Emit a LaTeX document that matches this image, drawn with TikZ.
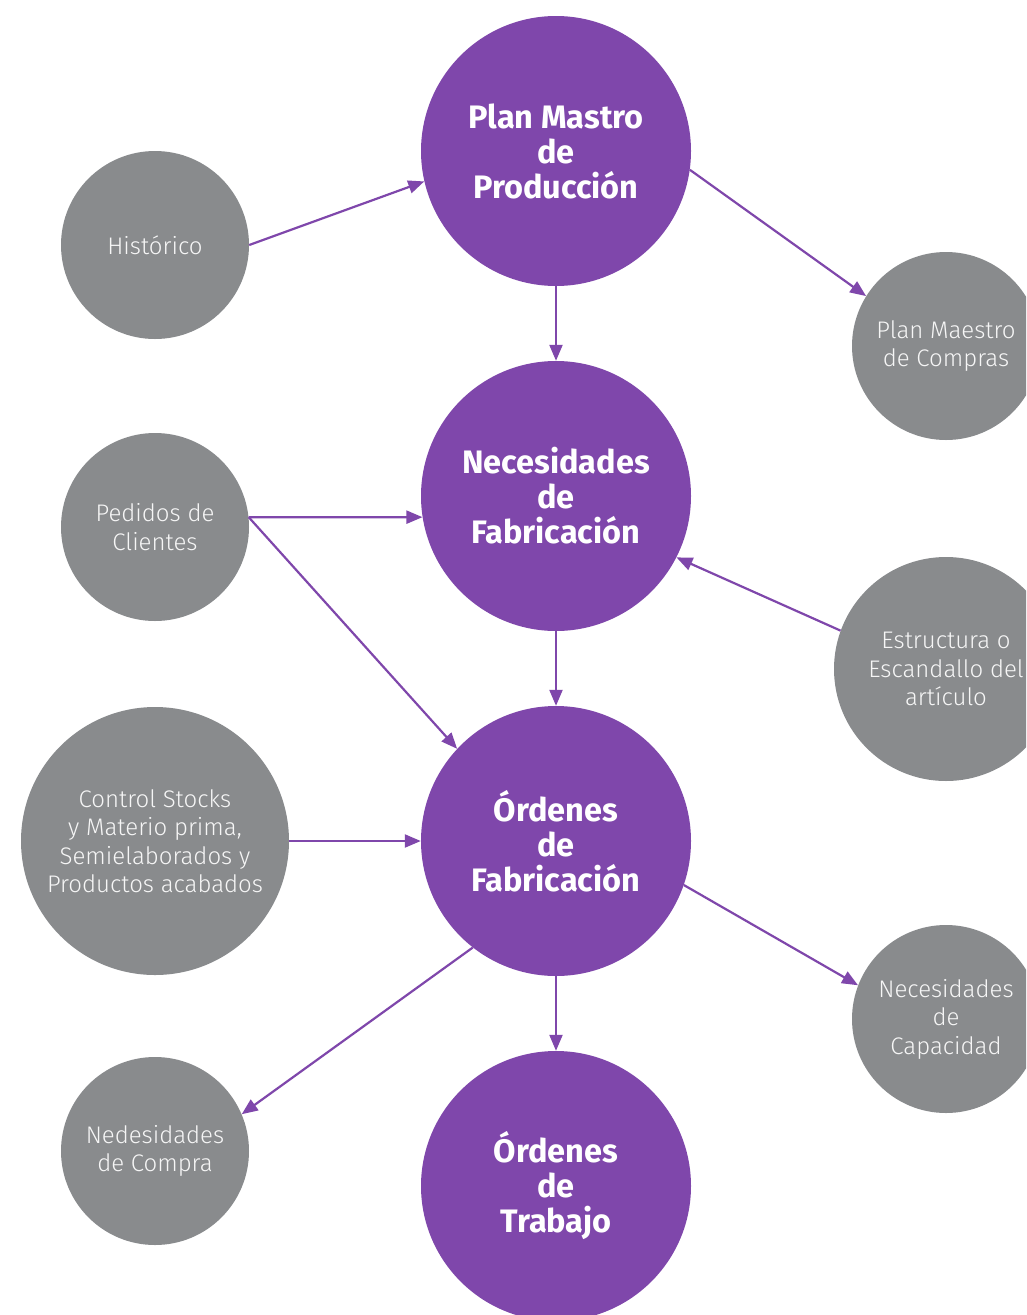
\documentclass[tikz,border=0pt]{standalone}
\usepackage{fontspec}
\setmainfont{Fira Sans}
\IfFontExistsTF{Fira Sans Light}{\newfontfamily\lightf{Fira Sans Light}}{\newfontfamily\lightf{Fira Sans}}
\usetikzlibrary{arrows.meta}
\definecolor{vio}{HTML}{7F47AB}
\definecolor{gris}{HTML}{898B8D}
\begin{document}
\begin{tikzpicture}[x=1pt,y=-1pt,
 big/.style={circle,fill=vio,minimum size=270pt,inner sep=0pt,align=center,text=white,font=\fontsize{32.5}{35}\selectfont\bfseries},
 small/.style={circle,fill=gris,inner sep=0pt,align=center,text=white!92!gris,font=\lightf\fontsize{24}{28.5}\selectfont},
 conn/.style={draw=vio,line width=2.2pt,-{Triangle[length=16pt,width=13pt]}}]
\useasboundingbox (0,0) rectangle (1026,1315);
\clip (0,0) rectangle (1026,1315);
\node[big] (PM) at (556,151) {Plan Mastro\\de\\Producción};
\node[big] (NF) at (556,496) {Necesidades\\de\\Fabricación};
\node[big] (OF) at (556,841) {Órdenes\\de\\Fabricación};
\node[big] (OT) at (556,1186) {Órdenes\\de\\Trabajo};
\node[small,minimum size=188pt] (HI) at (155,245) {Histórico};
\node[small,minimum size=188pt] (PC) at (946,346) {Plan Maestro\\de Compras};
\node[small,minimum size=188pt] (PE) at (155,527) {Pedidos de\\Clientes};
\node[small,minimum size=224pt] (ES) at (946,669) {Estructura o\\Escandallo del\\artículo};
\node[small,minimum size=268pt] (CS) at (155,841) {Control Stocks\\y Materio prima,\\Semielaborados y\\Productos acabados};
\node[small,minimum size=188pt] (NC) at (946,1019) {Necesidades\\de\\Capacidad};
\node[small,minimum size=188pt] (NE) at (155,1151) {Nedesidades\\de Compra};
\draw[conn] (HI.east) -- (PM.193);
\draw[conn] (PM.-8.5) -- (PC.148);
\draw[conn] (PM.south) -- (NF.north);
\draw[conn] (PE.6) -- (NF.189);
\draw[conn] (PE.6) -- (OF.137);
\draw[conn] (ES.160) -- (NF.-27.7);
\draw[conn] (NF.south) -- (OF.north);
\draw[conn] (CS.east) -- (OF.west);
\draw[conn] (OF.-19.8) -- (NC.159.4);
\draw[conn] (OF.232) -- (NE.23.9);
\draw[conn] (OF.south) -- (OT.north);
\end{tikzpicture}
\end{document}
